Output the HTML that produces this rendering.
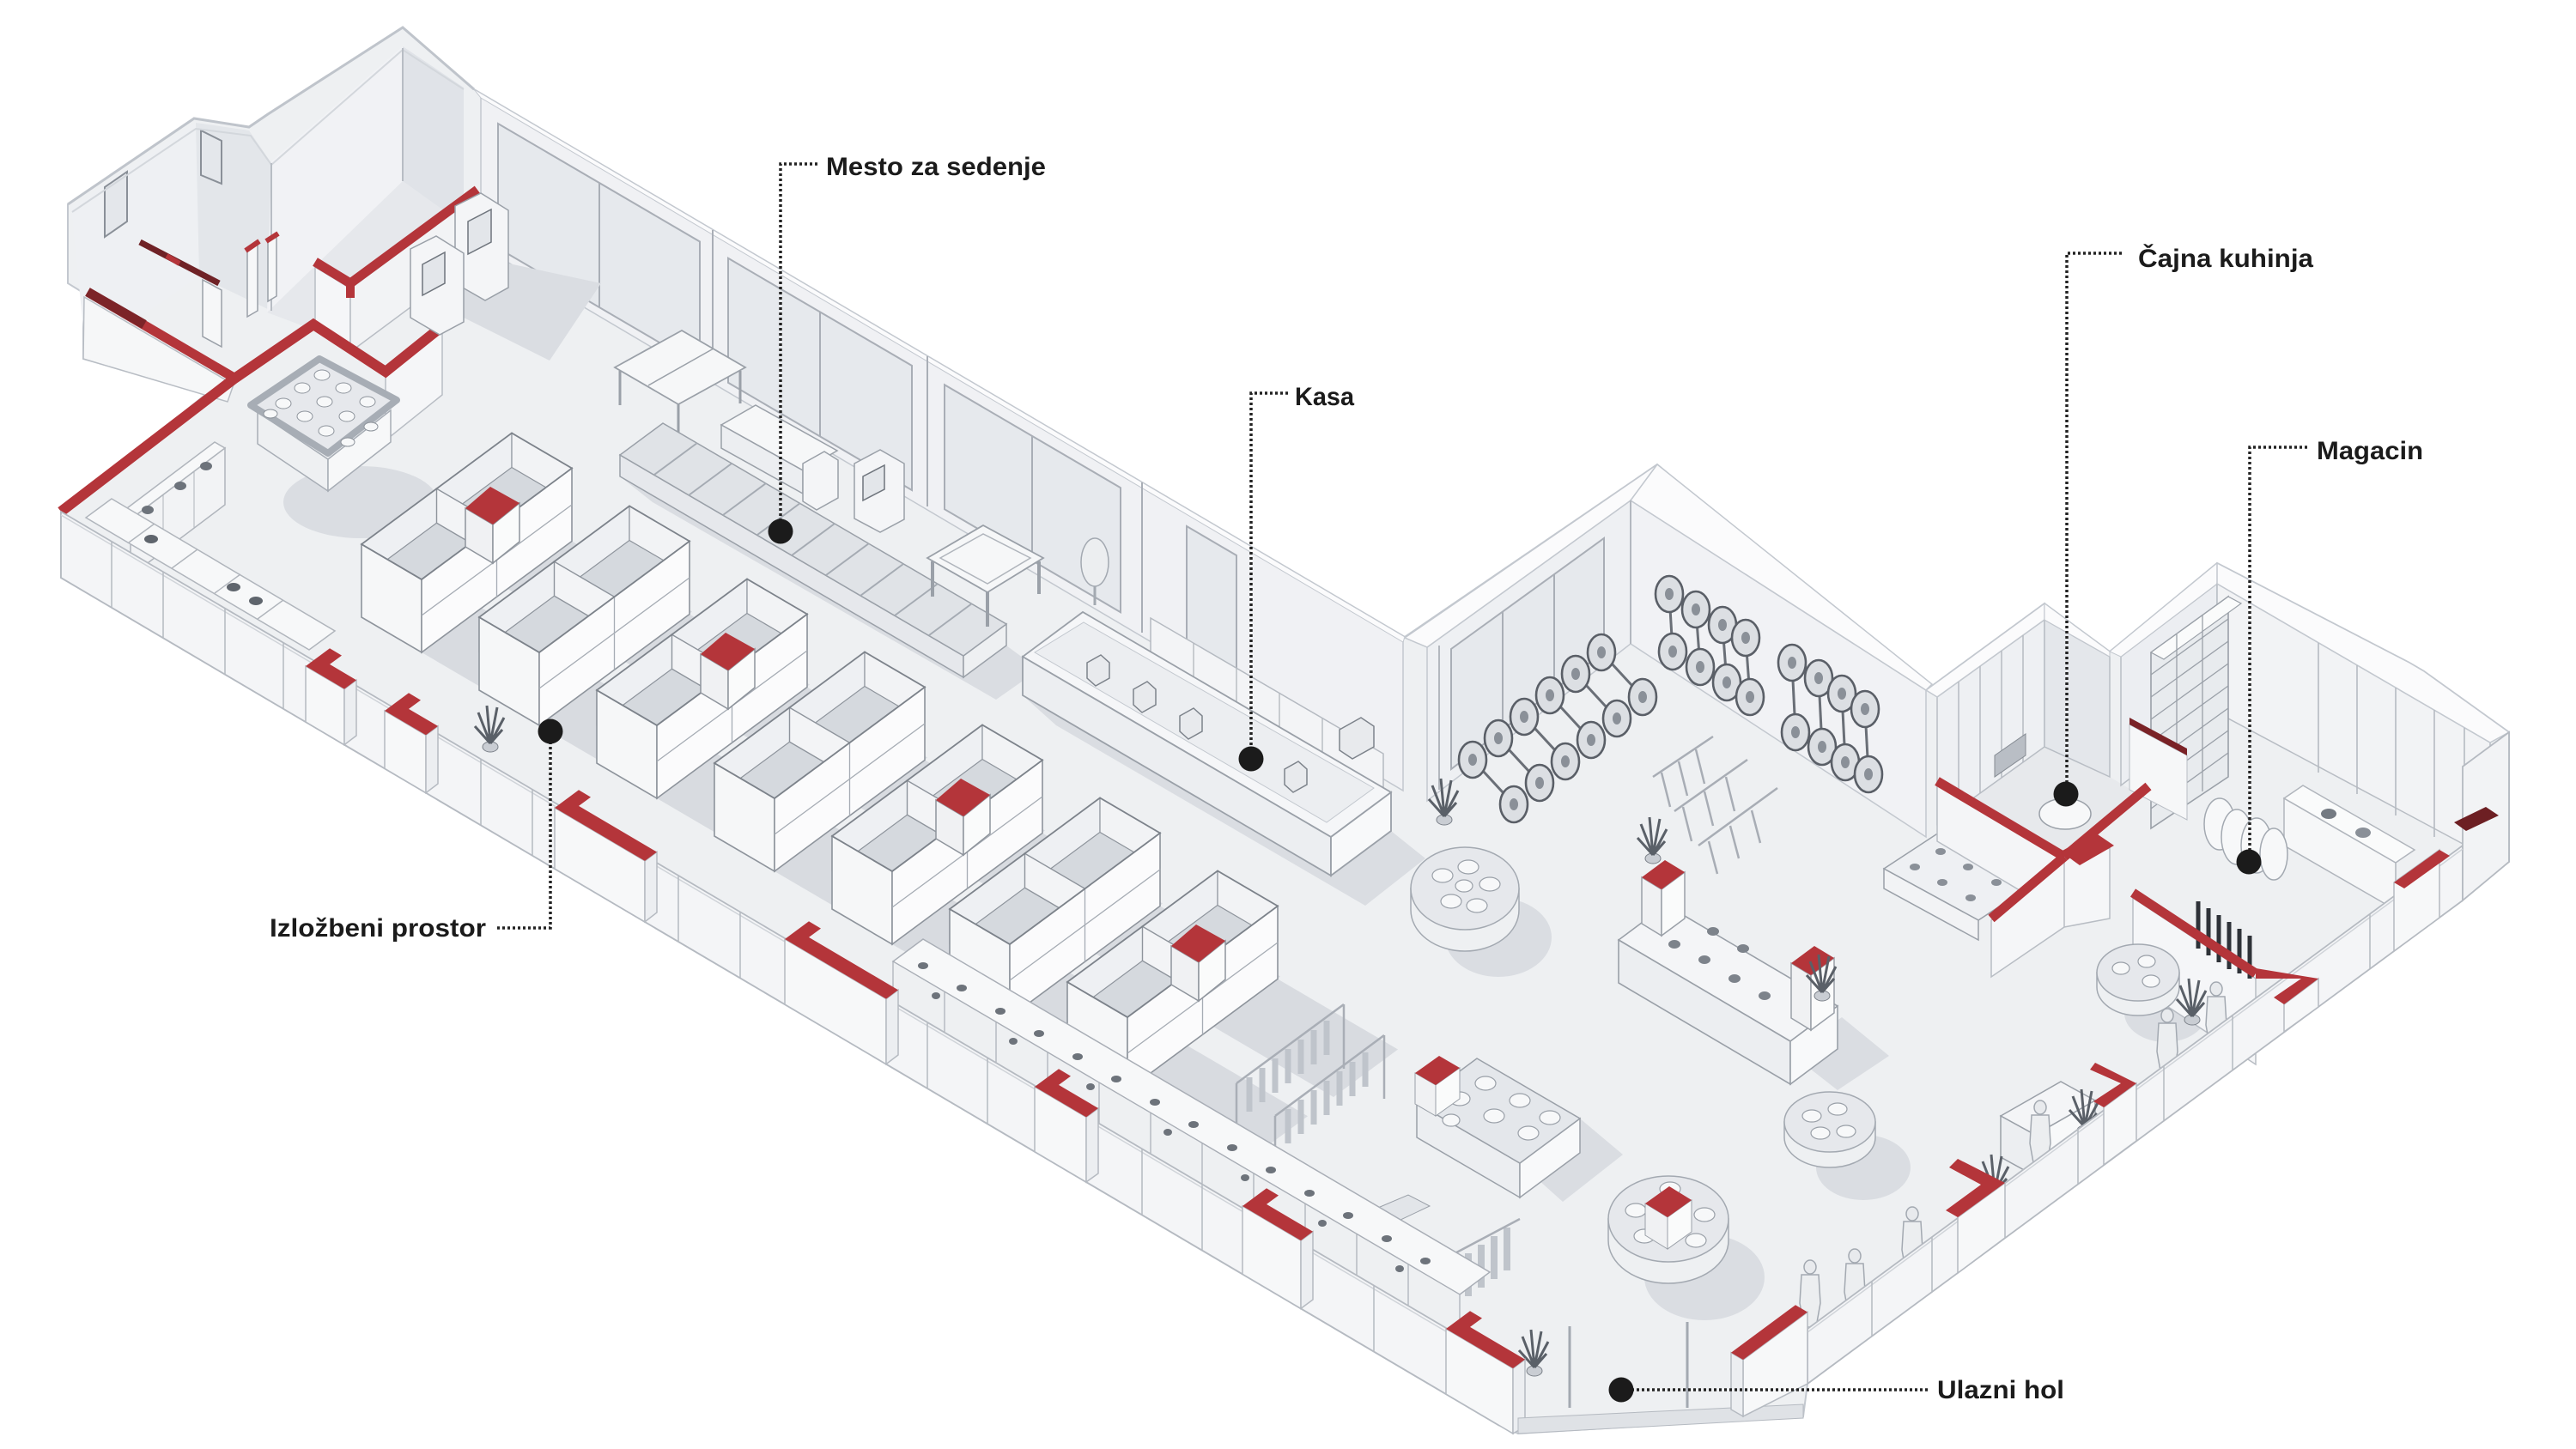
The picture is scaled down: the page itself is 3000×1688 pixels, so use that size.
<!DOCTYPE html>
<html><head><meta charset="utf-8">
<style>
html,body{margin:0;padding:0;background:#fff;}
svg{display:block;}
.lb{font-family:"Liberation Sans Narrow","Liberation Sans",sans-serif;font-weight:bold;fill:#1b1b1b;font-size:30px;}
</style></head><body>
<svg xmlns="http://www.w3.org/2000/svg" width="3000" height="1688" viewBox="0 0 3000 1688">
<defs>
<g id="unit">
 <polygon points="70,41 140,-10.8 280,71.2 210,123" fill="#d8dbe0"/>
 <polygon points="170,-33 245,-88.5 385,-6.5 310,49" fill="#d8dbe0"/>
 <polygon points="0,-85 70,-44 245,-173.5 175,-214.5" fill="#d5d9de"/>
 <polygon points="0,-85 175,-214.5 175,-174.5 0,-45" fill="#eef0f3" stroke="#8e949c" stroke-width="1.2"/>
 <polygon points="175,-214.5 245,-173.5 245,-133.5 175,-174.5" fill="#f2f3f5" stroke="#8e949c" stroke-width="1.2"/>
 <polygon points="87.5,-149.75 157.5,-108.75 157.5,-68.75 87.5,-109.75" fill="#f3f4f6" stroke="#8e949c" stroke-width="1.4"/>
 <polygon points="0,0 70,41 70,-44 0,-85" fill="#f6f7f8" stroke="#8e949c" stroke-width="1.6"/>
 <polygon points="70,41 245,-88.5 245,-173.5 70,-44" fill="#fbfbfc" stroke="#8e949c" stroke-width="1.6"/>
 <line x1="70" y1="-2" x2="245" y2="-131" stroke="#a6acb4" stroke-width="1.3"/>
 <line x1="157.5" y1="-108.75" x2="157.5" y2="-23.75" stroke="#a6acb4" stroke-width="1.3"/>
 <polygon points="0,-85 70,-44 245,-173.5 175,-214.5" fill="none" stroke="#7d838b" stroke-width="1.8"/>
</g>
<g id="rcol">
 <polygon points="121,-127 153,-108 153,-63 121,-82" fill="#f0f1f3" stroke="#8e949c" stroke-width="1.5"/>
 <polygon points="153,-108 184,-133 184,-88 153,-63" fill="#fafbfb" stroke="#8e949c" stroke-width="1.5"/>
 <polygon points="121,-127 153,-108 184,-133 150,-152" fill="#b4353a"/>
</g>
<g id="person">
 <ellipse cx="0" cy="-70" rx="7" ry="8" fill="#e8eaed" stroke="#a3a9b1" stroke-width="1.5"/>
 <polygon points="-10,-61 10,-61 12,-28 7,0 -7,0 -12,-28" fill="#eceef0" stroke="#a3a9b1" stroke-width="1.5"/>
</g>
<g id="plant">
 <ellipse cx="0" cy="0" rx="9" ry="6" fill="#c9cdd3" stroke="#7b8189"/>
 <path d="M0,-4 L-14,-40 M0,-4 L-4,-48 M0,-4 L8,-46 M0,-4 L16,-34 M0,-4 L-18,-24 M0,-4 L14,-20" stroke="#5a6068" stroke-width="3" fill="none"/>
</g>
<g id="wheel">
 <ellipse cx="0" cy="0" rx="16" ry="21" fill="#dcdfe3" stroke="#5a5f67" stroke-width="2.6"/>
 <ellipse cx="0" cy="0" rx="5" ry="7" fill="#8a9098"/>
</g>
</defs>

<rect width="3000" height="1688" fill="#ffffff"/>

<!-- base silhouette / floor -->
<polygon fill="#eef0f2" stroke="#c3c8cf" stroke-width="2" points="71,673 71,596 240,459 97,418 97,341 79,330 79,238 226,138 290,148 312,133 469,32 552,104 1636,742 1930,541 2243,804 2381,703 2457,759 2582,656 2806,772 2823,782 2922,853 2922,1004 2105,1612 2100,1650 1768,1670 1745,1660"/>

<!-- ===== left wing ===== -->
<polygon points="83,242 228,143 232,322 100,412" fill="#eef0f3"/>
<polygon points="228,143 290,152 316,190 316,362 232,322" fill="#e3e6ea"/>
<polygon points="316,188 469,54 469,211 311,364" fill="#f1f2f5"/>
<polygon points="469,54 540,102 540,262 469,211" fill="#e0e3e8"/>
<polygon points="311,364 469,211 540,262 556,300 408,410 367,385" fill="#e6e8ec"/>
<polygon points="122,218 148,200 148,258 122,276" fill="#e4e7eb" stroke="#8a9098" stroke-width="2"/>
<polygon points="234,152 258,164 258,214 234,204" fill="#e4e7eb" stroke="#8a9098" stroke-width="2"/>
<polyline points="79,238 226,138 290,148 312,133 469,32 552,104" fill="none" stroke="#bfc4cb" stroke-width="3"/>
<polyline points="84,247 228,150 292,158 316,192 469,58 540,104" fill="none" stroke="#d3d7dc" stroke-width="2"/>
<line x1="316" y1="190" x2="316" y2="362" stroke="#b8bdc4" stroke-width="2"/>
<line x1="469" y1="56" x2="469" y2="211" stroke="#b8bdc4" stroke-width="2"/>
<line x1="163" y1="282" x2="255" y2="330" stroke="#6f2226" stroke-width="7"/>
<polygon points="236,326 258,338 258,404 236,392" fill="#f6f7f8" stroke="#9aa0a8" stroke-width="1.5"/>
<polygon points="288,292 300,285 300,362 288,369" fill="#f6f7f8" stroke="#9aa0a8" stroke-width="1.5"/>
<polygon points="312,280 322,274 322,345 312,351" fill="#f6f7f8" stroke="#9aa0a8" stroke-width="1.5"/>
<line x1="286" y1="292" x2="302" y2="281" stroke="#b4353a" stroke-width="6"/>
<line x1="310" y1="281" x2="324" y2="272" stroke="#b4353a" stroke-width="6"/>
<line x1="194" y1="298" x2="209" y2="307" stroke="#b4353a" stroke-width="6"/>
<polygon points="98,346 272,448 265,468 97,418" fill="#f6f7f8" stroke="#b8bdc4" stroke-width="1.5"/>
<line x1="102" y1="340" x2="276" y2="442" stroke="#b4353a" stroke-width="11"/>
<line x1="102" y1="340" x2="168" y2="378" stroke="#7c2428" stroke-width="11"/>
<polygon points="367,311 408,336 408,410 367,385" fill="#f5f6f8" stroke="#b8bdc4" stroke-width="1.5"/>
<polygon points="408,336 556,227 556,300 408,410" fill="#f2f3f5" stroke="#b8bdc4" stroke-width="1.5"/>
<polygon points="449,439 515,386 515,460 449,513" fill="#f5f6f8" stroke="#b8bdc4" stroke-width="1.5"/>
<polyline points="367,305 408,330 556,221" fill="none" stroke="#b4353a" stroke-width="11"/>
<line x1="408" y1="330" x2="408" y2="347" stroke="#b4353a" stroke-width="10"/>
<polyline points="71,596 273,441 365,378 449,433 515,380" fill="none" stroke="#b4353a" stroke-width="12"/>
<!-- wing round display -->
<ellipse cx="420" cy="585" rx="90" ry="42" fill="#dadde2"/>
<polygon points="300,480 382,535 382,572 300,517" fill="#eef0f2" stroke="#a7adb5" stroke-width="1.5"/>
<polygon points="382,535 455,478 455,515 382,572" fill="#f7f8f9" stroke="#a7adb5" stroke-width="1.5"/>
<polygon points="292,472 372,418 462,466 382,528" fill="#e6e8ec" stroke="#a7adb5" stroke-width="8" stroke-linejoin="round"/>
<g fill="#f7f8f9" stroke="#8e949c" stroke-width="1">
<ellipse cx="330" cy="470" rx="9" ry="6"/><ellipse cx="352" cy="452" rx="9" ry="6"/><ellipse cx="375" cy="437" rx="9" ry="6"/>
<ellipse cx="355" cy="485" rx="9" ry="6"/><ellipse cx="378" cy="468" rx="9" ry="6"/><ellipse cx="400" cy="452" rx="9" ry="6"/>
<ellipse cx="380" cy="502" rx="9" ry="6"/><ellipse cx="404" cy="485" rx="9" ry="6"/><ellipse cx="428" cy="468" rx="9" ry="6"/>
<ellipse cx="405" cy="515" rx="8" ry="5"/><ellipse cx="432" cy="497" rx="8" ry="5"/><ellipse cx="315" cy="482" rx="8" ry="5"/>
</g>
<!-- cabinets along left end -->
<polygon points="140,598 250,515 262,522 152,605" fill="#f7f8f9" stroke="#b0b5bc" stroke-width="1.5"/>
<polygon points="152,605 262,522 262,588 152,671" fill="#f2f3f5" stroke="#b0b5bc" stroke-width="1.5"/>
<line x1="190" y1="577" x2="190" y2="643" stroke="#b0b5bc"/><line x1="226" y1="549" x2="226" y2="615" stroke="#b0b5bc"/>
<ellipse cx="172" cy="594" rx="7" ry="5" fill="#6d737b"/><ellipse cx="210" cy="566" rx="7" ry="5" fill="#6d737b"/><ellipse cx="240" cy="543" rx="7" ry="5" fill="#6d737b"/>
<polygon points="100,603 360,757 390,735 130,581" fill="#f7f8f9" stroke="#b0b5bc" stroke-width="1.5"/>
<g stroke="#b0b5bc" stroke-width="1.4"><line x1="150" y1="632" x2="180" y2="610"/><line x1="200" y1="662" x2="230" y2="640"/><line x1="250" y1="691" x2="280" y2="669"/><line x1="300" y1="721" x2="330" y2="699"/></g>
<ellipse cx="176" cy="628" rx="8" ry="5" fill="#5f656d"/><ellipse cx="272" cy="684" rx="8" ry="5" fill="#5f656d"/><ellipse cx="298" cy="700" rx="8" ry="5" fill="#5f656d"/>

<!-- ===== main back wall ===== -->
<polygon points="560,112 1634,746 1634,921 560,287" fill="#f0f1f4" stroke="#c3c8cf" stroke-width="1.5"/>
<polygon points="552,104 1636,742 1634,748 560,114" fill="#fbfbfc" stroke="#c3c8cf" stroke-width="1"/>
<g fill="#e6e9ed" stroke="#a9aeb6" stroke-width="2">
<polygon points="580,144 815,281.5 815,426.5 580,289"/>
<polygon points="848,300.8 1062,426 1062,571 848,445.8"/>
<polygon points="1100,448.2 1305,568.2 1305,713.2 1100,593.2"/>
<polygon points="1382,613 1440,647 1440,792 1382,758"/>
</g>
<g stroke="#a9aeb6" stroke-width="2">
<line x1="698" y1="213" x2="698" y2="358"/><line x1="955" y1="363" x2="955" y2="508"/><line x1="1202" y1="508" x2="1202" y2="653"/>
<line x1="830" y1="268" x2="830" y2="443"/><line x1="1080" y1="415" x2="1080" y2="590"/><line x1="1330" y1="562" x2="1330" y2="737"/>
</g>

<!-- ===== bike room walls ===== -->
<polygon points="1662,754 1899,583 1899,750 1662,933" fill="#eef0f3" stroke="#c3c8cf" stroke-width="1.5"/>
<polygon points="1636,743 1930,541 1899,583 1662,754" fill="#fbfbfc" stroke="#c3c8cf" stroke-width="1.5"/>
<polygon points="1690,756 1868,627 1868,759 1690,896" fill="#e6e9ed" stroke="#a9aeb6" stroke-width="2"/>
<line x1="1750" y1="713" x2="1750" y2="851" stroke="#a9aeb6" stroke-width="2"/>
<line x1="1810" y1="669" x2="1810" y2="805" stroke="#a9aeb6" stroke-width="2"/>
<line x1="1676" y1="752" x2="1676" y2="920" stroke="#b3b8bf" stroke-width="2"/>
<polygon points="1899,583 2243,804 2243,975 1899,750" fill="#f1f2f5" stroke="#c3c8cf" stroke-width="1.5"/>
<polygon points="1930,541 2250,797 2243,804 1899,583" fill="#fbfbfc" stroke="#c3c8cf" stroke-width="1.5"/>
<line x1="1899" y1="583" x2="1899" y2="750" stroke="#b3b8bf" stroke-width="2"/>

<!-- ===== kitchen ===== -->
<polygon points="2256,908 2256,960 2381,870 2457,905 2490,925 2404,996" fill="#e7e9ec"/>
<polygon points="2256,812 2381,722 2381,870 2256,960" fill="#eef0f3" stroke="#b8bdc4" stroke-width="1.5"/>
<polygon points="2243,804 2381,703 2381,722 2256,812" fill="#fbfbfc" stroke="#c3c8cf" stroke-width="1.5"/>
<polygon points="2381,722 2457,765 2457,905 2381,870" fill="#e4e7eb" stroke="#b8bdc4" stroke-width="1.5"/>
<polygon points="2381,703 2457,759 2457,765 2381,722" fill="#fbfbfc" stroke="#c3c8cf"/>
<g stroke="#b5bac1" stroke-width="1.5"><line x1="2281" y1="794" x2="2281" y2="942"/><line x1="2306" y1="776" x2="2306" y2="924"/><line x1="2331" y1="758" x2="2331" y2="906"/><line x1="2356" y1="740" x2="2356" y2="888"/></g>
<polygon points="2323,880 2359,855 2359,880 2323,905" fill="#b9bec5" stroke="#858b93"/>
<ellipse cx="2405" cy="948" rx="30" ry="18" fill="#f7f8f9" stroke="#9aa0a8" stroke-width="1.5"/>

<!-- ===== magacin ===== -->
<polygon points="2470,765 2582,680 2582,830 2470,915" fill="#eceef2" stroke="#b8bdc4" stroke-width="1.5"/>
<polygon points="2457,759 2582,656 2582,680 2470,765" fill="#fbfbfc" stroke="#c3c8cf"/>
<polygon points="2582,680 2900,865 2900,1000 2582,830" fill="#f2f3f5" stroke="#b8bdc4" stroke-width="1.5"/>
<polygon points="2582,656 2806,772 2823,782 2922,853 2900,865 2582,680" fill="#fbfbfc" stroke="#c3c8cf" stroke-width="1.5"/>
<g stroke="#b5bac1" stroke-width="1.6"><line x1="2700" y1="749" x2="2700" y2="900"/><line x1="2745" y1="775" x2="2745" y2="925"/><line x1="2790" y1="801" x2="2790" y2="950"/><line x1="2835" y1="827" x2="2835" y2="975"/><line x1="2870" y1="848" x2="2870" y2="990"/></g>
<polygon points="2505,760 2595,695 2595,905 2505,965" fill="#e8ebee" stroke="#9aa0a8" stroke-width="1.6"/>
<polygon points="2505,760 2595,695 2610,703 2520,768" fill="#fafbfb" stroke="#9aa0a8" stroke-width="1.2"/>
<g stroke="#9aa0a8" stroke-width="1.3">
<line x1="2535" y1="739" x2="2535" y2="944"/><line x1="2565" y1="717" x2="2565" y2="922"/>
<line x1="2505" y1="786" x2="2595" y2="721"/><line x1="2505" y1="812" x2="2595" y2="747"/><line x1="2505" y1="838" x2="2595" y2="773"/><line x1="2505" y1="864" x2="2595" y2="799"/><line x1="2505" y1="890" x2="2595" y2="825"/><line x1="2505" y1="916" x2="2595" y2="851"/><line x1="2505" y1="942" x2="2595" y2="877"/>
</g>
<polygon points="2480,844 2547,880 2547,955 2480,920" fill="#f6f7f8" stroke="#b8bdc4"/>
<polygon points="2480,836 2547,872 2547,880 2480,844" fill="#7a2226"/>
<polygon points="2660,930 2790,1005 2790,1060 2660,985" fill="#f6f7f8" stroke="#b0b5bc" stroke-width="1.5"/>
<polygon points="2660,930 2790,1005 2812,990 2682,915" fill="#fafbfb" stroke="#b0b5bc" stroke-width="1.5"/>
<ellipse cx="2712" cy="948" rx="9" ry="6" fill="#747a82"/><ellipse cx="2752" cy="970" rx="9" ry="6" fill="#8a9098"/>
<g fill="#f7f8f9" stroke="#a3a9b1" stroke-width="1.5">
<ellipse cx="2585" cy="960" rx="18" ry="30"/><ellipse cx="2605" cy="975" rx="18" ry="32"/><ellipse cx="2628" cy="985" rx="18" ry="32"/><ellipse cx="2648" cy="995" rx="16" ry="30"/>
</g>

<!-- ===== floor shadows ===== -->
<g fill="#dadde2">
<polygon points="722,555 1122,789 1172,752 1210,780 1160,815 760,585"/>
<polygon points="1191,810 1550,1020 1620,968 1660,1000 1590,1055 1230,845"/>
<ellipse cx="1745" cy="1092" rx="62" ry="46"/>
<ellipse cx="2170" cy="1360" rx="55" ry="38"/>
<ellipse cx="1985" cy="1488" rx="70" ry="50"/>
<ellipse cx="2522" cy="1180" rx="48" ry="34"/>
<polygon points="1770,1355 1840,1303 1890,1345 1820,1400"/>
<polygon points="2085,1227 2145,1185 2200,1230 2140,1270"/>
<polygon points="560,300 700,330 640,420 520,360"/>
</g>

<!-- ===== back area furniture ===== -->
<polygon points="530,240 560,225 592,245 592,335 565,350 530,330" fill="#f4f5f7" stroke="#9aa0a8" stroke-width="1.5"/>
<polygon points="545,258 572,244 572,282 545,296" fill="#e3e6ea" stroke="#6f757d" stroke-width="1.5"/>
<polygon points="478,290 508,275 540,295 540,375 512,390 478,370" fill="#f4f5f7" stroke="#9aa0a8" stroke-width="1.5"/>
<polygon points="492,308 518,294 518,330 492,344" fill="#e3e6ea" stroke="#6f757d" stroke-width="1.5"/>
<polygon points="716,428 794,385 868,428 790,471" fill="#f6f7f8" stroke="#9aa0a8" stroke-width="1.8"/>
<g stroke="#9aa0a8" stroke-width="3"><line x1="722" y1="432" x2="722" y2="472"/><line x1="790" y1="471" x2="790" y2="512"/><line x1="862" y1="432" x2="862" y2="470"/></g>
<line x1="755" y1="449" x2="831" y2="406" stroke="#9aa0a8" stroke-width="1.5"/>
<polygon points="840,495 880,472 975,525 935,548" fill="#f6f7f8" stroke="#9aa0a8" stroke-width="1.5"/>
<polygon points="840,495 935,548 935,575 840,522" fill="#eceef1" stroke="#9aa0a8" stroke-width="1.5"/>
<polygon points="935,540 960,526 976,536 976,580 951,594 935,584" fill="#f4f5f7" stroke="#9aa0a8" stroke-width="1.5"/>
<polygon points="995,540 1025,524 1053,540 1053,605 1025,620 995,604" fill="#f4f5f7" stroke="#9aa0a8" stroke-width="1.5"/>
<polygon points="1005,555 1030,542 1030,570 1005,583" fill="#e3e6ea" stroke="#6f757d" stroke-width="1.5"/>
<!-- seating row -->
<polygon points="722,530 1122,764 1122,789 722,555" fill="#e6e8ec" stroke="#9aa0a8" stroke-width="1.5"/>
<polygon points="1122,764 1172,727 1172,752 1122,789" fill="#eef0f2" stroke="#9aa0a8" stroke-width="1.5"/>
<polygon points="722,530 1122,764 1172,727 772,493" fill="#e0e3e7" stroke="#9aa0a8" stroke-width="1.5"/>
<g stroke="#a5abb3" stroke-width="2">
<line x1="762" y1="553" x2="812" y2="516"/><line x1="802" y1="577" x2="852" y2="540"/><line x1="842" y1="600" x2="892" y2="563"/><line x1="882" y1="623" x2="932" y2="586"/><line x1="922" y1="647" x2="972" y2="610"/><line x1="962" y1="670" x2="1012" y2="633"/><line x1="1002" y1="694" x2="1052" y2="657"/><line x1="1042" y1="717" x2="1092" y2="680"/><line x1="1082" y1="740" x2="1132" y2="703"/>
</g>
<polygon points="1080,650 1145,612 1215,650 1150,690" fill="#f6f7f8" stroke="#9aa0a8" stroke-width="1.8"/>
<polygon points="1095,650 1145,622 1200,650 1150,680" fill="none" stroke="#b0b5bc" stroke-width="1.5"/>
<g stroke="#9aa0a8" stroke-width="4"><line x1="1086" y1="654" x2="1086" y2="695"/><line x1="1150" y1="690" x2="1150" y2="730"/><line x1="1210" y1="654" x2="1210" y2="692"/></g>
<ellipse cx="1275" cy="655" rx="16" ry="28" fill="#eceef0" stroke="#a3a9b1" stroke-width="1.5"/>
<line x1="1275" y1="683" x2="1275" y2="705" stroke="#a3a9b1" stroke-width="3"/>
<!-- kasa counter -->
<polygon points="1340,720 1611,878 1611,960 1340,802" fill="#f3f4f6" stroke="#b5bac1" stroke-width="1.5"/>
<g stroke="#b5bac1" stroke-width="1.4"><line x1="1390" y1="749" x2="1390" y2="831"/><line x1="1440" y1="778" x2="1440" y2="860"/><line x1="1490" y1="808" x2="1490" y2="890"/><line x1="1540" y1="837" x2="1540" y2="919"/></g>
<polygon points="1191,765 1550,975 1620,923 1261,713" fill="#f5f6f8" stroke="#9aa0a8" stroke-width="1.8"/>
<polygon points="1191,765 1550,975 1550,1020 1191,810" fill="#eceef1" stroke="#9aa0a8" stroke-width="1.8"/>
<polygon points="1550,975 1620,923 1620,968 1550,1020" fill="#f8f9fa" stroke="#9aa0a8" stroke-width="1.8"/>
<polygon points="1205,760 1545,958 1600,918 1262,725" fill="#eceef1" stroke="#c3c8cf" stroke-width="1"/>
<g fill="#e8eaed" stroke="#7d838b" stroke-width="1.5">
<polygon points="1266,772 1282,763 1292,772 1292,790 1276,799 1266,790"/>
<polygon points="1320,803 1336,794 1346,803 1346,821 1330,830 1320,821"/>
<polygon points="1374,834 1390,825 1400,834 1400,852 1384,861 1374,852"/>
<polygon points="1496,896 1512,887 1522,896 1522,914 1506,923 1496,914"/>
<polygon points="1560,850 1585,836 1600,846 1600,870 1575,884 1560,874"/>
</g>

<!-- ===== bikes ===== -->
<g stroke="#6a6f77" stroke-width="3" fill="none">
<line x1="1715" y1="885" x2="1763" y2="937"/><line x1="1745" y1="860" x2="1793" y2="912"/><line x1="1775" y1="835" x2="1823" y2="887"/><line x1="1805" y1="810" x2="1853" y2="862"/><line x1="1835" y1="785" x2="1883" y2="837"/><line x1="1865" y1="760" x2="1913" y2="812"/>
</g>
<use href="#wheel" x="1715" y="885"/><use href="#wheel" x="1763" y="937"/>
<use href="#wheel" x="1745" y="860"/><use href="#wheel" x="1793" y="912"/>
<use href="#wheel" x="1775" y="835"/><use href="#wheel" x="1823" y="887"/>
<use href="#wheel" x="1805" y="810"/><use href="#wheel" x="1853" y="862"/>
<use href="#wheel" x="1835" y="785"/><use href="#wheel" x="1883" y="837"/>
<use href="#wheel" x="1865" y="760"/><use href="#wheel" x="1913" y="812"/>
<g stroke="#6a6f77" stroke-width="3">
<line x1="1944" y1="692" x2="1948" y2="759"/><line x1="1975" y1="710" x2="1980" y2="777"/><line x1="2006" y1="728" x2="2011" y2="795"/><line x1="2033" y1="743" x2="2038" y2="812"/>
<line x1="2087" y1="772" x2="2091" y2="853"/><line x1="2118" y1="790" x2="2122" y2="870"/><line x1="2145" y1="808" x2="2149" y2="888"/><line x1="2172" y1="826" x2="2176" y2="902"/>
</g>
<use href="#wheel" x="1944" y="692"/><use href="#wheel" x="1948" y="759"/>
<use href="#wheel" x="1975" y="710"/><use href="#wheel" x="1980" y="777"/>
<use href="#wheel" x="2006" y="728"/><use href="#wheel" x="2011" y="795"/>
<use href="#wheel" x="2033" y="743"/><use href="#wheel" x="2038" y="812"/>
<use href="#wheel" x="2087" y="772"/><use href="#wheel" x="2091" y="853"/>
<use href="#wheel" x="2118" y="790"/><use href="#wheel" x="2122" y="870"/>
<use href="#wheel" x="2145" y="808"/><use href="#wheel" x="2149" y="888"/>
<use href="#wheel" x="2172" y="826"/><use href="#wheel" x="2176" y="902"/>
<use href="#plant" x="1682" y="955"/>
<g stroke="#a8adb5" stroke-width="2.5" fill="none">
<line x1="1925" y1="905" x2="1995" y2="858"/><line x1="1950" y1="945" x2="2035" y2="885"/><line x1="1978" y1="985" x2="2070" y2="918"/>
<path d="M1935,900 l10,40 M1955,887 l10,40 M1975,873 l10,40 M1960,940 l10,40 M1985,922 l10,40 M2010,905 l10,40 M1990,980 l10,38 M2015,962 l10,38 M2040,944 l10,38"/>
</g>

<!-- ===== shelving units ===== -->
<use href="#unit" x="421" y="719"/><use href="#rcol" x="421" y="719"/>
<use href="#unit" x="558" y="804"/>
<use href="#unit" x="695" y="889"/><use href="#rcol" x="695" y="889"/>
<use href="#unit" x="832" y="974"/>
<use href="#unit" x="969" y="1059"/><use href="#rcol" x="969" y="1059"/>
<use href="#unit" x="1106" y="1144"/>
<use href="#unit" x="1243" y="1229"/><use href="#rcol" x="1243" y="1229"/>
<use href="#plant" x="571" y="870"/>

<!-- ===== store furniture ===== -->
<path d="M1643,1035 L1643,1060 A63,48 0 0 0 1769,1060 L1769,1035 Z" fill="#eef0f2" stroke="#a3a9b1" stroke-width="1.5"/>
<ellipse cx="1706" cy="1035" rx="63" ry="48" fill="#e6e8ec" stroke="#a3a9b1" stroke-width="1.5"/>
<g fill="#f7f8f9" stroke="#9aa0a8" stroke-width="1.2"><ellipse cx="1680" cy="1020" rx="12" ry="8"/><ellipse cx="1710" cy="1010" rx="12" ry="8"/><ellipse cx="1735" cy="1030" rx="12" ry="8"/><ellipse cx="1690" cy="1050" rx="12" ry="8"/><ellipse cx="1720" cy="1055" rx="12" ry="8"/><ellipse cx="1705" cy="1032" rx="10" ry="7"/></g>
<polygon points="1885,1095 2085,1213 2140,1172 1940,1054" fill="#f4f5f7" stroke="#9aa0a8" stroke-width="1.6"/>
<polygon points="1885,1095 2085,1213 2085,1263 1885,1145" fill="#eceef1" stroke="#9aa0a8" stroke-width="1.6"/>
<polygon points="2085,1213 2140,1172 2140,1222 2085,1263" fill="#f8f9fa" stroke="#9aa0a8" stroke-width="1.6"/>
<g fill="#7d838b"><ellipse cx="1950" cy="1100" rx="7" ry="5"/><ellipse cx="1985" cy="1118" rx="7" ry="5"/><ellipse cx="2020" cy="1140" rx="7" ry="5"/><ellipse cx="2055" cy="1160" rx="7" ry="5"/><ellipse cx="1995" cy="1085" rx="7" ry="5"/><ellipse cx="2030" cy="1105" rx="7" ry="5"/></g>
<polygon points="1912,1022 1935,1036 1935,1090 1912,1076" fill="#f0f1f3" stroke="#9aa0a8" stroke-width="1.5"/>
<polygon points="1935,1036 1962,1016 1962,1070 1935,1090" fill="#fafbfb" stroke="#9aa0a8" stroke-width="1.5"/>
<polygon points="1912,1022 1935,1036 1962,1016 1939,1002" fill="#b4353a"/>
<polygon points="2086,1122 2109,1136 2109,1200 2086,1186" fill="#f0f1f3" stroke="#9aa0a8" stroke-width="1.5"/>
<polygon points="2109,1136 2136,1116 2136,1180 2109,1200" fill="#fafbfb" stroke="#9aa0a8" stroke-width="1.5"/>
<polygon points="2086,1122 2109,1136 2136,1116 2113,1102" fill="#b4353a"/>
<use href="#plant" x="1925" y="1000"/><use href="#plant" x="2122" y="1160"/>
<polygon points="1650,1285 1770,1355 1770,1395 1650,1325" fill="#eceef1" stroke="#9aa0a8" stroke-width="1.5"/>
<polygon points="1770,1355 1840,1303 1840,1343 1770,1395" fill="#f8f9fa" stroke="#9aa0a8" stroke-width="1.5"/>
<polygon points="1650,1285 1770,1355 1840,1303 1720,1233" fill="#e4e7eb" stroke="#9aa0a8" stroke-width="1.5"/>
<g fill="#f7f8f9" stroke="#9aa0a8" stroke-width="1.2"><ellipse cx="1700" cy="1280" rx="12" ry="8"/><ellipse cx="1730" cy="1262" rx="12" ry="8"/><ellipse cx="1740" cy="1300" rx="12" ry="8"/><ellipse cx="1770" cy="1282" rx="12" ry="8"/><ellipse cx="1780" cy="1320" rx="12" ry="8"/><ellipse cx="1805" cy="1302" rx="12" ry="8"/><ellipse cx="1690" cy="1305" rx="10" ry="7"/></g>
<polygon points="1648,1250 1672,1264 1672,1300 1648,1286" fill="#f0f1f3" stroke="#9aa0a8"/>
<polygon points="1672,1264 1700,1244 1700,1280 1672,1300" fill="#fafbfb" stroke="#9aa0a8"/>
<polygon points="1648,1250 1672,1264 1700,1244 1676,1230" fill="#b4353a"/>
<path d="M2078,1307 L2078,1325 A53,35 0 0 0 2184,1325 L2184,1307 Z" fill="#eef0f2" stroke="#a3a9b1" stroke-width="1.5"/>
<ellipse cx="2131" cy="1307" rx="53" ry="35" fill="#e6e8ec" stroke="#a3a9b1" stroke-width="1.5"/>
<g fill="#f7f8f9" stroke="#9aa0a8" stroke-width="1.2"><ellipse cx="2110" cy="1300" rx="11" ry="7"/><ellipse cx="2140" cy="1292" rx="11" ry="7"/><ellipse cx="2150" cy="1318" rx="11" ry="7"/><ellipse cx="2120" cy="1320" rx="11" ry="7"/></g>
<path d="M1873,1420 L1873,1445 A70,50 0 0 0 2013,1445 L2013,1420 Z" fill="#eef0f2" stroke="#a3a9b1" stroke-width="1.5"/>
<ellipse cx="1943" cy="1420" rx="70" ry="50" fill="#e6e8ec" stroke="#a3a9b1" stroke-width="1.5"/>
<g fill="#f7f8f9" stroke="#9aa0a8" stroke-width="1.2"><ellipse cx="1905" cy="1410" rx="12" ry="8"/><ellipse cx="1985" cy="1415" rx="12" ry="8"/><ellipse cx="1915" cy="1440" rx="12" ry="8"/><ellipse cx="1975" cy="1445" rx="12" ry="8"/><ellipse cx="1945" cy="1385" rx="12" ry="8"/></g>
<polygon points="1916,1402 1942,1418 1942,1455 1916,1439" fill="#f0f1f3" stroke="#9aa0a8"/>
<polygon points="1942,1418 1970,1398 1970,1435 1942,1455" fill="#fafbfb" stroke="#9aa0a8"/>
<polygon points="1916,1402 1942,1418 1970,1398 1944,1382" fill="#b4353a"/>
<g stroke="#a9aeb6" stroke-width="2.5" fill="none">
<line x1="1440" y1="1262" x2="1565" y2="1170"/><line x1="1485" y1="1300" x2="1612" y2="1206"/>
<line x1="1440" y1="1262" x2="1440" y2="1335"/><line x1="1565" y1="1170" x2="1565" y2="1245"/><line x1="1485" y1="1300" x2="1485" y2="1372"/><line x1="1612" y1="1206" x2="1612" y2="1280"/>
</g>
<g stroke="#bfc4cb" stroke-width="7">
<path d="M1455,1255 v40 M1470,1244 v40 M1485,1233 v40 M1500,1222 v40 M1515,1211 v40 M1530,1200 v40 M1545,1189 v40"/>
<path d="M1500,1292 v40 M1515,1281 v40 M1530,1270 v40 M1545,1259 v40 M1560,1248 v40 M1575,1237 v40 M1590,1226 v40"/>
</g>
<g stroke="#bfc4cb" stroke-width="8"><path d="M1695,1470 v50 M1710,1460 v50 M1725,1450 v50 M1740,1440 v50 M1755,1430 v50"/></g>
<line x1="1685" y1="1465" x2="1770" y2="1420" stroke="#a9aeb6" stroke-width="2.5"/>
<polygon points="1586,1415 1640,1392 1665,1405 1612,1430" fill="#e2e5e9" stroke="#9aa0a8"/>
<polygon points="1586,1415 1612,1430 1612,1445 1586,1430" fill="#eceef1" stroke="#9aa0a8"/>
<polygon points="2194,1012 2258,970 2368,1030 2304,1072" fill="#eef0f3" stroke="#9aa0a8" stroke-width="1.5"/>
<polygon points="2194,1012 2304,1072 2304,1095 2194,1035" fill="#f2f3f5" stroke="#9aa0a8" stroke-width="1.5"/>
<g fill="#8a9098"><ellipse cx="2230" cy="1010" rx="6" ry="4"/><ellipse cx="2260" cy="992" rx="6" ry="4"/><ellipse cx="2262" cy="1028" rx="6" ry="4"/><ellipse cx="2292" cy="1010" rx="6" ry="4"/><ellipse cx="2295" cy="1046" rx="6" ry="4"/><ellipse cx="2325" cy="1028" rx="6" ry="4"/><ellipse cx="2318" cy="1002" rx="6" ry="4"/></g>

<!-- kitchen / magacin front walls -->
<polygon points="2256,915 2404,1003 2404,1068 2256,980" fill="#f4f5f7" stroke="#b8bdc4" stroke-width="1.5"/>
<polygon points="2319,1072 2404,1000 2457,988 2457,1070 2404,1080 2319,1138" fill="#f5f6f8" stroke="#b8bdc4" stroke-width="1.5"/>
<line x1="2404" y1="1000" x2="2404" y2="1080" stroke="#b8bdc4" stroke-width="1.5"/>
<line x1="2256" y1="910" x2="2404" y2="998" stroke="#b4353a" stroke-width="11"/>
<line x1="2404" y1="998" x2="2502" y2="916" stroke="#b4353a" stroke-width="11"/>
<line x1="2404" y1="998" x2="2319" y2="1070" stroke="#b4353a" stroke-width="11"/>
<polygon points="2400,992 2440,970 2462,985 2422,1008" fill="#b4353a"/>
<polygon points="2484,1046 2627,1140 2627,1240 2484,1146" fill="#f5f6f8" stroke="#b8bdc4" stroke-width="1.5"/>
<g stroke="#2e3238" stroke-width="5"><path d="M2560,1050 v55 M2572,1058 v55 M2584,1066 v55 M2596,1074 v55 M2608,1082 v52 M2620,1090 v50"/></g>
<line x1="2484" y1="1040" x2="2627" y2="1134" stroke="#b4353a" stroke-width="11"/>
<path d="M2442,1133 L2442,1150 A48,33 0 0 0 2538,1150 L2538,1133 Z" fill="#eef0f2" stroke="#a3a9b1" stroke-width="1.5"/>
<ellipse cx="2490" cy="1133" rx="48" ry="33" fill="#e6e8ec" stroke="#a3a9b1" stroke-width="1.5"/>
<g fill="#f7f8f9" stroke="#9aa0a8" stroke-width="1.2"><ellipse cx="2470" cy="1128" rx="10" ry="7"/><ellipse cx="2500" cy="1120" rx="10" ry="7"/><ellipse cx="2505" cy="1143" rx="10" ry="7"/></g>
<polygon points="2330,1300 2400,1260 2440,1282 2370,1322" fill="#f4f5f7" stroke="#9aa0a8" stroke-width="1.5"/>
<polygon points="2330,1300 2370,1322 2370,1370 2330,1348" fill="#eceef1" stroke="#9aa0a8" stroke-width="1.5"/>
<polygon points="2370,1322 2440,1282 2440,1330 2370,1370" fill="#f8f9fa" stroke="#9aa0a8" stroke-width="1.5"/>
<use href="#plant" x="2323" y="1393"/><use href="#plant" x="2428" y="1317"/><use href="#plant" x="2553" y="1188"/><use href="#plant" x="1787" y="1597"/>
<use href="#person" x="2376" y="1360"/><use href="#person" x="2524" y="1253"/><use href="#person" x="2581" y="1222"/>
<use href="#person" x="2227" y="1484"/><use href="#person" x="2160" y="1533"/><use href="#person" x="2108" y="1546"/>

<!-- ===== shoe display row along front wall ===== -->
<polygon points="1040,1120 1700,1508 1735,1482 1075,1094" fill="#f7f8f9" stroke="#a9aeb6" stroke-width="1.5"/>
<polygon points="1040,1120 1700,1508 1700,1560 1040,1172" fill="#eef0f2" stroke="#a9aeb6" stroke-width="1.2"/>
<g fill="#6d737b">
<ellipse cx="1075" cy="1125" rx="6" ry="4"/><ellipse cx="1120" cy="1151" rx="6" ry="4"/><ellipse cx="1165" cy="1178" rx="6" ry="4"/><ellipse cx="1210" cy="1204" rx="6" ry="4"/><ellipse cx="1255" cy="1231" rx="6" ry="4"/><ellipse cx="1300" cy="1257" rx="6" ry="4"/><ellipse cx="1345" cy="1284" rx="6" ry="4"/><ellipse cx="1390" cy="1310" rx="6" ry="4"/><ellipse cx="1435" cy="1337" rx="6" ry="4"/><ellipse cx="1480" cy="1363" rx="6" ry="4"/><ellipse cx="1525" cy="1390" rx="6" ry="4"/><ellipse cx="1570" cy="1416" rx="6" ry="4"/><ellipse cx="1615" cy="1443" rx="6" ry="4"/><ellipse cx="1660" cy="1469" rx="6" ry="4"/>
<ellipse cx="1090" cy="1160" rx="5" ry="4"/><ellipse cx="1180" cy="1213" rx="5" ry="4"/><ellipse cx="1270" cy="1266" rx="5" ry="4"/><ellipse cx="1360" cy="1319" rx="5" ry="4"/><ellipse cx="1450" cy="1372" rx="5" ry="4"/><ellipse cx="1540" cy="1425" rx="5" ry="4"/><ellipse cx="1630" cy="1478" rx="5" ry="4"/>
</g>
<g stroke="#a9aeb6" stroke-width="1.2"><path d="M1100,1155 v50 M1160,1190 v50 M1220,1226 v50 M1280,1261 v50 M1340,1296 v50 M1400,1332 v50 M1460,1367 v50 M1520,1402 v50 M1580,1438 v50 M1640,1473 v50"/></g>

<!-- ===== front wall ===== -->
<polygon points="71,596 1745,1583 1745,1660 71,673" fill="#f4f5f7" stroke="#b5bac1" stroke-width="1.8"/>
<line x1="71" y1="600" x2="1745" y2="1587" stroke="#d0d4d9" stroke-width="1.5"/>
<g stroke="#b5bac1" stroke-width="1.5">
<line x1="130" y1="631" x2="130" y2="708"/><line x1="190" y1="666" x2="190" y2="743"/><line x1="262" y1="709" x2="262" y2="786"/><line x1="330" y1="749" x2="330" y2="826"/><line x1="560" y1="884" x2="560" y2="961"/><line x1="620" y1="920" x2="620" y2="997"/><line x1="790" y1="1020" x2="790" y2="1097"/><line x1="862" y1="1062" x2="862" y2="1139"/><line x1="1080" y1="1191" x2="1080" y2="1268"/><line x1="1150" y1="1232" x2="1150" y2="1309"/><line x1="1330" y1="1338" x2="1330" y2="1415"/><line x1="1400" y1="1380" x2="1400" y2="1457"/><line x1="1600" y1="1498" x2="1600" y2="1575"/><line x1="1690" y1="1551" x2="1690" y2="1628"/>
</g>
<g stroke="#b5bac1" stroke-width="1.5">
<polygon points="356,776 401,802.6 401,867.6 356,841" fill="#f7f8f9"/><polygon points="401,802.6 415,792.2 415,857 401,867.6" fill="#eceef1"/>
<polygon points="448,828 496,856.3 496,923.6 448,895.3" fill="#f7f8f9"/><polygon points="496,856.3 510,845.9 510,913 496,923.6" fill="#eceef1"/>
<polygon points="646,941 751,1002.9 751,1073.9 646,1012" fill="#f7f8f9"/><polygon points="751,1002.9 765,992.5 765,1063 751,1073.9" fill="#eceef1"/>
<polygon points="914,1094 1032,1163.6 1032,1239.6 914,1170" fill="#f7f8f9"/><polygon points="1032,1163.6 1046,1153.2 1046,1229 1032,1239.6" fill="#eceef1"/>
<polygon points="1205,1266 1265,1301.4 1265,1377 1205,1341.6" fill="#f7f8f9"/><polygon points="1265,1301.4 1279,1291 1279,1367 1265,1377" fill="#eceef1"/>
<polygon points="1447,1405 1515,1445.1 1515,1524.4 1447,1484.3" fill="#f7f8f9"/><polygon points="1515,1445.1 1529,1434.7 1529,1514 1515,1524.4" fill="#eceef1"/>
<polygon points="1684,1548 1762,1594 1762,1670 1684,1624" fill="#f7f8f9"/><polygon points="1762,1594 1776,1583.6 1776,1662 1762,1670" fill="#eceef1"/>
</g>
<g fill="#b4353a">
<polygon points="356,776 401,802.6 415,792.2 384,773.9 398,763.6 384,755.3"/>
<polygon points="448,828 496,856.3 510,845.9 476,825.9 490,815.6 476,807.3"/>
<polygon points="646,941 751,1002.9 765,992.5 674,938.9 688,928.6 674,920.3"/>
<polygon points="914,1094 1032,1163.6 1046,1153.2 942,1091.9 956,1081.6 942,1073.3"/>
<polygon points="1205,1266 1265,1301.4 1279,1291 1233,1263.9 1247,1253.6 1233,1245.3"/>
<polygon points="1447,1405 1515,1445.1 1529,1434.7 1475,1402.9 1489,1392.6 1475,1384.3"/>
<polygon points="1684,1548 1762,1594 1776,1583.6 1712,1545.9 1726,1535.6 1712,1527.3"/>
</g>

<!-- ===== entry ===== -->
<polygon points="1768,1652 2100,1636 2100,1652 1768,1670" fill="#dfe2e6" stroke="#b5bac1"/>
<g stroke="#a3a9b1" stroke-width="3"><line x1="1828" y1="1545" x2="1828" y2="1640"/><line x1="1965" y1="1540" x2="1965" y2="1640"/></g>

<!-- ===== right wall ===== -->
<polygon points="2105,1548 2868,985 2868,1049 2105,1612" fill="#f4f5f7" stroke="#b5bac1" stroke-width="1.8"/>
<polygon points="2868,893 2922,853 2922,1004 2868,1049" fill="#f2f3f5" stroke="#b5bac1" stroke-width="1.8"/>
<line x1="2105" y1="1552" x2="2868" y2="989" stroke="#d0d4d9" stroke-width="1.5"/>
<g stroke="#b5bac1" stroke-width="1.5">
<line x1="2180" y1="1493" x2="2180" y2="1557"/><line x1="2250" y1="1441" x2="2250" y2="1505"/><line x1="2330" y1="1382" x2="2330" y2="1446"/><line x1="2420" y1="1316" x2="2420" y2="1380"/><line x1="2520" y1="1242" x2="2520" y2="1306"/><line x1="2600" y1="1183" x2="2600" y2="1247"/><line x1="2760" y1="1065" x2="2760" y2="1129"/><line x1="2830" y1="1013" x2="2830" y2="1077"/>
</g>
<g stroke="#b5bac1" stroke-width="1.5">
<polygon points="2030,1584 2105,1528.5 2105,1612 2030,1650" fill="#f7f8f9"/>
<polygon points="2016,1575.7 2030,1584 2030,1650 2016,1642" fill="#eceef1"/>
<polygon points="2280,1418 2335,1378 2335,1442 2280,1483" fill="#f7f8f9"/>
<polygon points="2450,1290 2488,1262 2488,1329 2450,1357" fill="#f7f8f9"/>
<polygon points="2660,1170 2700,1140 2700,1173 2660,1202" fill="#f7f8f9"/>
<polygon points="2788,1028 2841,990 2841,1069 2788,1108" fill="#f7f8f9"/>
</g>
<g fill="#b4353a">
<polygon points="2030,1584 2105,1528.5 2091,1520.2 2016,1575.7"/>
<polygon points="2280,1350 2335,1378 2280,1418 2266,1410 2307,1380 2270,1360"/>
<polygon points="2440,1238 2488,1262 2450,1290 2438,1283 2470,1262 2434,1246"/>
<polygon points="2627,1128 2700,1140 2660,1170 2648,1162 2680,1140 2627,1140"/>
<polygon points="2788,1028 2841,990 2853,997 2800,1035"/>
</g>
<polygon points="2858,958 2895,940 2910,950 2872,968" fill="#6d1f23"/>

<!-- ===== labels & leaders ===== -->
<g stroke="#222" stroke-width="3.5" stroke-dasharray="3 3" fill="none">
<polyline points="952,191 909,191 909,619"/>
<polyline points="1500,458 1457,458 1457,884"/>
<polyline points="579,1081 641,1081 641,852"/>
<polyline points="2471,295 2407,295 2407,925"/>
<polyline points="2687,521 2620,521 2620,1004"/>
<line x1="1888" y1="1619" x2="2246" y2="1619"/>
</g>
<g fill="#1b1b1b">
<circle cx="909" cy="619" r="14.5"/>
<circle cx="1457" cy="884" r="14.5"/>
<circle cx="641" cy="852" r="14.5"/>
<circle cx="2406" cy="925" r="14.5"/>
<circle cx="2619" cy="1004" r="14.5"/>
<circle cx="1888" cy="1619" r="14.5"/>
</g>
<text class="lb" x="962" y="204" textLength="256" lengthAdjust="spacingAndGlyphs">Mesto za sedenje</text>
<text class="lb" x="1508" y="472" textLength="69" lengthAdjust="spacingAndGlyphs">Kasa</text>
<text class="lb" x="314" y="1091" textLength="252" lengthAdjust="spacingAndGlyphs">Izložbeni prostor</text>
<text class="lb" x="2490" y="311" textLength="204" lengthAdjust="spacingAndGlyphs">Čajna kuhinja</text>
<text class="lb" x="2698" y="535" textLength="124" lengthAdjust="spacingAndGlyphs">Magacin</text>
<text class="lb" x="2256" y="1629" textLength="148" lengthAdjust="spacingAndGlyphs">Ulazni hol</text>
</svg>
</body></html>
